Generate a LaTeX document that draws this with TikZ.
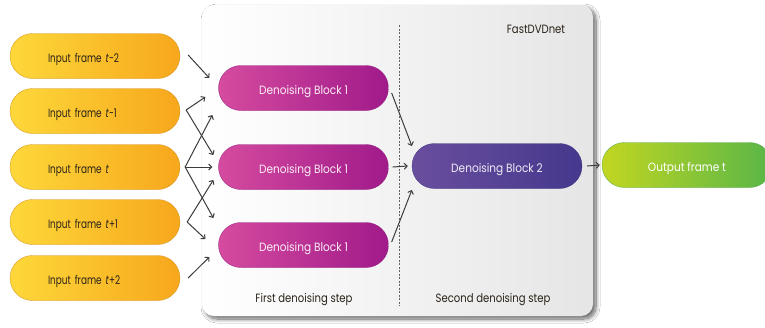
\documentclass[tikz,border=0pt]{standalone}
\usepackage{fontspec}
\setmainfont{Poppins}
\newfontfamily\infont[FakeStretch=0.74]{Poppins}
\newfontfamily\blkfont[FakeStretch=0.88]{Poppins}
\newfontfamily\lblfont[FakeStretch=0.84]{Poppins}
\usetikzlibrary{shapes.misc,calc,shadows.blur,arrows.meta}
\definecolor{ylA}{HTML}{FDD83A}
\definecolor{ylB}{HTML}{F7A71C}
\definecolor{mgA}{HTML}{D54B9F}
\definecolor{mgB}{HTML}{A01A8A}
\definecolor{ppA}{HTML}{6A4E9E}
\definecolor{ppB}{HTML}{45388D}
\definecolor{grA}{HTML}{C2D622}
\definecolor{grB}{HTML}{58B648}
\definecolor{txt}{HTML}{2A2218}
\definecolor{arrc}{HTML}{3C3C3C}
\begin{document}
\begin{tikzpicture}[x=1pt,y=-1pt,
  pill/.style={rounded rectangle, minimum width=170pt, minimum height=45pt, inner sep=0pt,
    text height=12pt, text depth=0pt},
  inframe/.style={pill, left color=ylA, right color=ylB, draw=ylB!85!black, line width=0.3pt, text=txt,
    text width=94pt, align=left, font=\infont\fontsize{12}{14}\selectfont},
  blockone/.style={pill, left color=mgA, right color=mgB, draw=mgB!90!black, line width=0.3pt, text=white!90!mgA,
    font=\blkfont\fontsize{12}{14}\selectfont},
  blocktwo/.style={pill, left color=ppA, right color=ppB, draw=ppB!90!black, line width=0.3pt, text=white!90!ppA,
    font=\blkfont\fontsize{12}{14}\selectfont},
  outframe/.style={pill, left color=grA, right color=grB, draw=grB!90!black, line width=0.3pt, text=white,
    font=\blkfont\fontsize{12}{14}\selectfont},
  arr/.style={draw=arrc, line width=1pt, -{Straight Barb[length=3pt,width=6pt]}},
  lbl/.style={font=\lblfont\fontsize{12}{14}\selectfont, text=txt}
]
\clip (0,0) rectangle (765,327);
\fill[white] (0,0) rectangle (765,327);

% panel
\path[blur shadow={shadow xshift=3pt, shadow yshift=-3pt, shadow blur radius=4pt, shadow blur steps=10, shadow opacity=60},
      left color=white, right color=black!10, rounded corners=12pt]
  (202,5) rectangle (593,316);
\draw[arrc!80, line width=0.5pt, dash pattern=on 2pt off 1.5pt] (399,25) -- (399,306);

\node[lbl] (title) at (536,29) {FastDVDnet};
\node[lbl] (s1) at (304,300) {First denoising step};
\node[lbl] (s2) at (493,300) {Second denoising step};

% inputs
\node[inframe] (in1) at (95,56)  {Input frame \textit{t}-2};
\node[inframe] (in2) at (95,111) {Input frame \textit{t}-1};
\node[inframe] (in3) at (95,167) {Input frame \textit{t}};
\node[inframe] (in4) at (95,222) {Input frame \textit{t}+1};
\node[inframe] (in5) at (95,278) {Input frame \textit{t}+2};

% blocks
\node[blockone] (b1a) at (303.5,88)  {Denoising Block 1};
\node[blockone] (b1b) at (303.5,167) {Denoising Block 1};
\node[blockone] (b1c) at (303.5,245) {Denoising Block 1};
\node[blocktwo] (b2)  at (497,166)   {Denoising Block 2};
\node[outframe] (out) at (687,165)   {Output frame t};

% arrows inputs -> first step
\draw[arr] ($(in1.east)+(8,-1)$) -- ($(b1a.west)+(-9,-10)$);
\draw[arr] ($(in2.east)+(6,-1)$) -- ($(b1a.west)+(-13,9)$);
\draw[arr] ($(in2.east)+(6,-1)$) -- ($(b1b.west)+(-5,-12)$);
\draw[arr] ($(in3.east)+(5,0)$) -- ($(b1a.west)+(-6,27)$);
\draw[arr] ($(in3.east)+(5,0)$) -- ($(b1b.west)+(-6,0)$);
\draw[arr] ($(in3.east)+(5,0)$) -- ($(b1c.west)+(-5,-27)$);
\draw[arr] ($(in4.east)+(7,0)$) -- ($(b1b.west)+(-5,13)$);
\draw[arr] ($(in4.east)+(7,0)$) -- ($(b1c.west)+(-13,-6)$);
\draw[arr] ($(in5.east)+(8,0)$) -- ($(b1c.west)+(-9,12)$);

% first step -> second step
\draw[arr] ($(b1a.east)+(3,5)$) -- ($(b2.west)+(0,-20)$);
\draw[arr] ($(b1b.east)+(4,0)$) -- ($(b2.west)+(-4,0)$);
\draw[arr] ($(b1c.east)+(3,-3)$) -- ($(b2.west)+(0,24)$);

% second step -> output
\draw[arr] ($(b2.east)+(5,0)$) -- ($(out.west)+(-2,0)$);
\end{tikzpicture}
\end{document}
